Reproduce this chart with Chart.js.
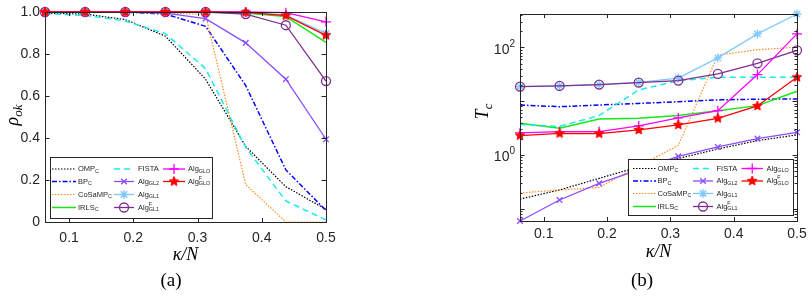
<!DOCTYPE html>
<html>
<head>
<meta charset="utf-8">
<script src="https://cdn.jsdelivr.net/npm/chart.js@4.4.1/dist/chart.umd.min.js"></script>
<style>
  body { margin: 0; background: #fff; width: 812px; height: 297px; overflow: hidden; position: relative; }
  canvas { position: absolute; top: 0; }
  #ca { left: 0; }
  #cb { left: 406px; }
  .cap { position: absolute; top: 269px; width: 60px; text-align: center; font: 19px "Liberation Serif", serif; color: #000; }
</style>
</head>
<body>
<canvas id="ca" width="406" height="297"></canvas>
<canvas id="cb" width="406" height="297"></canvas>
<div class="cap" style="left:141px">(a)</div>
<div class="cap" style="left:612px">(b)</div>
<script>
// sparsity ratio kappa/N on the x axis
const xVals = [0.0625, 0.125, 0.1875, 0.25, 0.3125, 0.375, 0.4375, 0.5];
const xTicks = [0.1, 0.2, 0.3, 0.4, 0.5];
const yTicksA = [0, 0.2, 0.4, 0.6, 0.8, 1];
const yLabelsB = [1, 100];

// legend names: base, subscript, superscript
const names = ['OMP', 'BP', 'CoSaMP', 'IRLS', 'FISTA', 'Alg', 'Alg', 'Alg', 'Alg', 'Alg'];
const subs = ['C', 'C', 'C', 'C', '', 'GL2', 'GL1', 'GL1', 'GLO', 'GLO'];
const sups = ['', '', '', '', '', '', '', 'F', '', 'F'];

// (a) success rate rho_ok
const ompA    = [0.995, 0.99, 0.964, 0.885, 0.68, 0.36, 0.168, 0.06];
const bpA     = [1, 1, 1, 0.99, 0.932, 0.65, 0.248, 0.055];
const cosampA = [1, 1, 1, 0.995, 0.988, 0.178, 0, 0];
const irlsA   = [1, 1, 1, 1, 1, 0.995, 0.978, 0.855];
const fistaA  = [0.992, 0.984, 0.957, 0.897, 0.73, 0.355, 0.1, 0.01];
const gl2A    = [1, 1, 1, 0.995, 0.968, 0.853, 0.68, 0.394];
const gl1A    = [1, 1, 1, 1, 1, 0.998, 0.985, 0.898];
const gl1fA   = [1, 1, 1, 1, 1, 0.99, 0.937, 0.671];
const gloA    = [1, 1, 1, 1, 1, 1, 0.997, 0.953];
const glofA   = [1, 1, 1, 1, 1, 0.998, 0.983, 0.889];

// (b) computing time T_c
const ompB    = [0.151, 0.223, 0.367, 0.6, 0.86, 1.29, 1.85, 2.36];
const bpB     = [8.5, 7.9, 8.5, 9.1, 9.8, 10.6, 10.9, 11];
const cosampB = [0.196, 0.223, 0.249, 0.62, 1.5, 72, 91, 101];
const irlsB   = [3.88, 3.13, 4.68, 4.8, 5.4, 6.68, 8.28, 15.3];
const fistaB  = [3.67, 3.41, 5.4, 16.2, 24.2, 27.9, 27.9, 27.9];
const gl2B    = [0.059, 0.145, 0.296, 0.53, 0.94, 1.41, 2.01, 2.64];
const gl1B    = [18.7, 19.3, 20.4, 22.4, 27, 64, 179, 420];
const gl1fB   = [18.7, 19.3, 20.4, 22.2, 24.2, 32.2, 50.8, 88.7];
const gloB    = [2.57, 2.72, 2.72, 3.47, 4.89, 6.68, 31.3, 179];
const glofB   = [2.29, 2.52, 2.49, 2.92, 3.62, 4.8, 8.17, 27.9];

function makeStar(color, r) {
  const c = document.createElement('canvas');
  const s = Math.ceil(r * 2 + 2);
  c.width = s; c.height = s;
  const g = c.getContext('2d');
  g.beginPath();
  for (let i = 0; i < 10; i++) {
    const rr = i % 2 ? r * 0.45 : r;
    const a = -Math.PI / 2 + i * Math.PI / 5;
    g.lineTo(s / 2 + rr * Math.cos(a), s / 2 + rr * Math.sin(a));
  }
  g.closePath();
  g.fillStyle = color; g.fill();
  g.strokeStyle = color; g.lineWidth = 1; g.stroke();
  return c;
}
const redStar = makeStar('#FF0000', 5);

const styles = [
  { color: '#000000', dash: [1.5, 1.5], width: 1.2 },
  { color: '#0000FF', dash: [5, 2, 1.5, 2], width: 1.5 },
  { color: '#FF8C1A', dash: [1.5, 1.5], width: 1.2 },
  { color: '#19E619', dash: [], width: 1.5 },
  { color: '#19EBEB', dash: [6, 4], width: 1.5 },
  { color: '#8A4DFF', dash: [], width: 1.3, marker: 'crossRot', r: 4 },
  { color: '#80C8FF', dash: [], width: 1.3, marker: 'star', r: 4.5 },
  { color: '#7E2F8E', dash: [], width: 1.3, marker: 'circle', r: 4.5 },
  { color: '#FF00FF', dash: [], width: 1.3, marker: 'cross', r: 5 },
  { color: '#FF0000', dash: [], width: 1.3, marker: redStar, r: 5 }
];

function buildDatasets(series) {
  return series.map((vals, i) => {
    const st = styles[i];
    const fillCol = st.marker === 'circle' ? 'rgba(0,0,0,0)' : st.color;
    return {
      label: names[i] + (subs[i] ? '_' + subs[i] : '') + (sups[i] ? '^' + sups[i] : ''),
      data: xVals.map((x, j) => ({ x: x, y: vals[j] })),
      borderColor: st.color,
      backgroundColor: fillCol,
      borderWidth: st.width,
      borderDash: st.dash,
      pointStyle: st.marker || 'circle',
      pointRadius: st.marker ? st.r : 0,
      pointHoverRadius: 0,
      pointBorderWidth: 1.3,
      pointBorderColor: st.color,
      pointBackgroundColor: fillCol,
      tension: 0,
      fill: false,
      clip: false,
      order: series.length - i
    };
  });
}

function drawRich(ctx, x, y, base, sub, sup, size, fam, style) {
  const small = size * 0.72;
  ctx.font = style + ' ' + size + 'px ' + fam;
  ctx.fillText(base, x, y);
  let w = ctx.measureText(base).width;
  ctx.font = style + ' ' + small + 'px ' + fam;
  let w2 = 0;
  if (sub) { ctx.fillText(sub, x + w, y + size * 0.3); w2 = ctx.measureText(sub).width; }
  if (sup) { ctx.fillText(sup, x + w, y - size * 0.42); w2 = Math.max(w2, ctx.measureText(sup).width); }
  return w + w2;
}

function richWidth(ctx, base, sub, size, fam, style) {
  ctx.font = style + ' ' + size + 'px ' + fam;
  let w = ctx.measureText(base).width;
  ctx.font = style + ' ' + size * 0.72 + 'px ' + fam;
  return w + (sub ? ctx.measureText(sub).width : 0);
}

const frame = {
  id: 'frame',
  afterDatasetsDraw(chart, args, o) {
    const ctx = chart.ctx, a = chart.chartArea;
    const xs = chart.scales.x, ys = chart.scales.y;
    ctx.save();
    ctx.strokeStyle = '#262626';
    ctx.lineWidth = 1;
    ctx.setLineDash([]);
    ctx.strokeRect(Math.round(a.left) + 0.5, Math.round(a.top) + 0.5, Math.round(a.right - a.left), Math.round(a.bottom - a.top));
    ctx.beginPath();
    xs.ticks.forEach(t => {
      const px = Math.round(xs.getPixelForValue(t.value)) + 0.5;
      ctx.moveTo(px, a.bottom); ctx.lineTo(px, a.bottom - 4);
      ctx.moveTo(px, a.top); ctx.lineTo(px, a.top + 4);
    });
    ys.ticks.forEach(t => {
      const len = t.major ? 4.5 : 2.5;
      const py = Math.round(ys.getPixelForValue(t.value)) + 0.5;
      ctx.moveTo(a.left, py); ctx.lineTo(a.left + len, py);
      ctx.moveTo(a.right, py); ctx.lineTo(a.right - len, py);
    });
    ctx.stroke();

    // log tick labels 10^k
    ctx.fillStyle = '#262626';
    ctx.textBaseline = 'middle';
    if (o.logLabels) {
      o.logLabels.forEach(v => {
        const py = ys.getPixelForValue(v);
        const ex = String(Math.round(Math.log10(v)));
        ctx.font = '10px "Liberation Sans"';
        const ew = ctx.measureText(ex).width;
        ctx.textAlign = 'right';
        ctx.fillText(ex, a.left - 5, py - 3.5);
        ctx.font = '14px "Liberation Sans"';
        ctx.fillText('10', a.left - 5 - ew, py + 2.5);
      });
    }

    // axis titles
    ctx.fillStyle = '#000';
    ctx.textAlign = 'center';
    ctx.font = 'italic 18px "Liberation Serif"';
    ctx.fillText(o.xTitle, (a.left + a.right) / 2, o.xTitleY);
    ctx.save();
    ctx.translate(o.yTitleX, (a.top + a.bottom) / 2 + o.yTitleDy);
    ctx.rotate(-Math.PI / 2);
    ctx.textAlign = 'left';
    const tw = richWidth(ctx, o.yTitle[0], o.yTitle[1], 18, '"Liberation Serif"', 'italic');
    drawRich(ctx, -tw / 2, 0, o.yTitle[0], o.yTitle[1], '', 18, '"Liberation Serif"', 'italic');
    ctx.restore();

    // legend, column major like the original figure
    const L = o.legend;
    ctx.fillStyle = '#fff';
    ctx.fillRect(L.box[0], L.box[1], L.box[2] - L.box[0], L.box[3] - L.box[1]);
    ctx.strokeStyle = '#262626';
    ctx.lineWidth = 1;
    ctx.strokeRect(L.box[0] + 0.5, L.box[1] + 0.5, L.box[2] - L.box[0], L.box[3] - L.box[1]);
    styles.forEach((st, i) => {
      const col = L.cols[Math.floor(i / 4)];
      const y = L.rows[i % 4];
      ctx.strokeStyle = st.color;
      ctx.lineWidth = st.width;
      ctx.setLineDash(st.dash);
      ctx.beginPath();
      ctx.moveTo(col[0], y); ctx.lineTo(col[1], y);
      ctx.stroke();
      ctx.setLineDash([]);
      if (st.marker) {
        ctx.fillStyle = st.marker === 'circle' ? 'rgba(0,0,0,0)' : st.color;
        ctx.lineWidth = 1.3;
        Chart.helpers.drawPoint(ctx, { pointStyle: st.marker, radius: st.r, rotation: 0, borderWidth: 1.3 }, (col[0] + col[1]) / 2, y);
      }
      ctx.fillStyle = '#262626';
      ctx.textAlign = 'left';
      ctx.textBaseline = 'middle';
      drawRich(ctx, col[2], y, names[i], subs[i], sups[i], 7.5, '"Liberation Sans"', 'normal');
    });
    ctx.restore();
  }
};

function makeChart(id, series, o) {
  return new Chart(document.getElementById(id), {
    type: 'line',
    data: { datasets: buildDatasets(series) },
    options: {
      responsive: false,
      animation: false,
      events: [],
      layout: { padding: { left: 0, top: o.top, right: o.right, bottom: 0 } },
      plugins: {
        legend: { display: false },
        tooltip: { enabled: false },
        frame: o.frame
      },
      scales: {
        x: {
          type: 'linear',
          min: 0.0625,
          max: 0.5,
          grid: { display: false, drawTicks: false },
          border: { display: false },
          ticks: { color: '#262626', font: { family: 'Liberation Sans', size: 14 }, padding: o.xPad, autoSkip: false, maxRotation: 0 },
          afterBuildTicks: s => { s.ticks = xTicks.map(v => ({ value: v })); },
          afterFit: s => { s.height = o.xHeight; s.paddingLeft = 0; s.paddingRight = 0; }
        },
        y: o.yScale
      }
    },
    plugins: [frame]
  });
}

makeChart('ca', [ompA, bpA, cosampA, irlsA, fistaA, gl2A, gl1A, gl1fA, gloA, glofA], {
  top: 12, right: 80, xHeight: 75, xPad: 7.5,
  yScale: {
    type: 'linear', min: 0, max: 1,
    grid: { display: false, drawTicks: false }, border: { display: false },
    ticks: { color: '#262626', font: { family: 'Liberation Sans', size: 14 }, padding: 5, autoSkip: false },
    afterBuildTicks: s => { s.ticks = yTicksA.map(v => ({ value: v, major: true })); },
    afterFit: s => { s.width = 45; s.paddingTop = 0; s.paddingBottom = 0; }
  },
  frame: {
    xTitle: 'κ/N', xTitleY: 255, yTitle: ['ρ', 'ok'], yTitleX: 13, yTitleDy: -2,
    legend: {
      box: [50, 157, 212, 218],
      rows: [169, 181.5, 194.5, 207.5],
      cols: [[52, 76, 78], [114, 134, 138], [163, 185, 188]]
    }
  }
});

makeChart('cb', [ompB, bpB, cosampB, irlsB, fistaB, gl2B, gl1B, gl1fB, gloB, glofB], {
  top: 14, right: 15, xHeight: 76, xPad: 4.5,
  yScale: {
    type: 'logarithmic', min: 0.059, max: 420,
    grid: { display: false, drawTicks: false }, border: { display: false },
    ticks: { autoSkip: false, callback: () => '' },
    afterBuildTicks: s => {
      const t = [];
      for (let e = -2; e <= 3; e++) {
        for (let m = 1; m <= 9; m++) {
          const v = m * Math.pow(10, e);
          if (v >= s.min && v <= s.max) t.push({ value: v, major: m === 1 });
        }
      }
      s.ticks = t;
    },
    afterFit: s => { s.width = 114; s.paddingTop = 0; s.paddingBottom = 0; }
  },
  frame: {
    logLabels: yLabelsB,
    xTitle: 'κ/N', xTitleY: 252, yTitle: ['T', 'c'], yTitleX: 77, yTitleDy: -6,
    legend: {
      box: [222, 159, 387, 215],
      rows: [168.5, 181, 193.5, 206.5],
      cols: [[227, 250, 251.5], [287, 307, 310.5], [335.5, 357, 360.5]]
    }
  }
});
</script>
</body>
</html>
